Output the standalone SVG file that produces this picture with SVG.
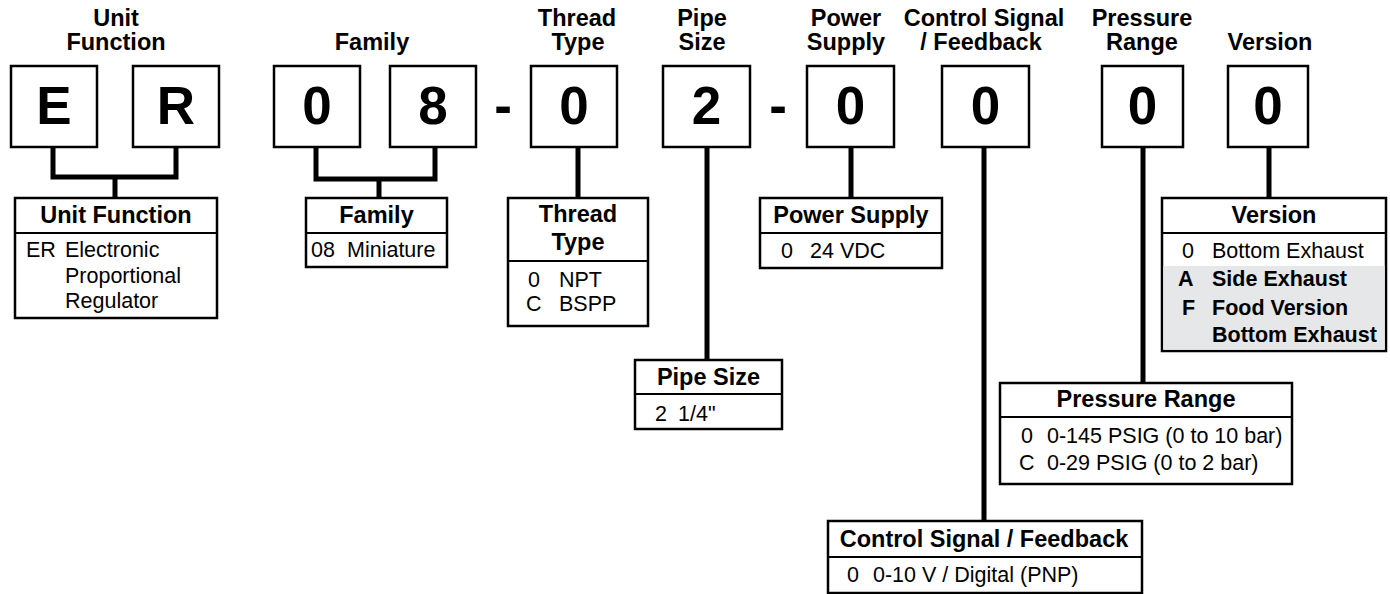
<svg xmlns="http://www.w3.org/2000/svg" width="1390" height="594" viewBox="0 0 1390 594">
<style>
text{font-family:"Liberation Sans",Arial,Helvetica,sans-serif;fill:#000}
.lbl{font-size:23.5px;font-weight:bold;text-anchor:middle}
.big{font-size:53px;font-weight:bold;text-anchor:middle}
.hd{font-size:23.5px;font-weight:bold;text-anchor:middle}
.bd{font-size:21.5px}
.b{font-weight:bold}
.box{fill:#fff;stroke:#000;stroke-width:2.5}
.div{stroke:#000;stroke-width:2.2}
.con{fill:none;stroke:#000;stroke-width:5;stroke-linejoin:miter}
</style>
<rect width="1390" height="594" fill="#fff"/>

<g id="top-labels">
<text class="lbl" x="116" y="26">Unit</text>
<text class="lbl" x="116" y="50">Function</text>
<text class="lbl" x="372" y="50">Family</text>
<text class="lbl" x="577" y="26">Thread</text>
<text class="lbl" x="578" y="50">Type</text>
<text class="lbl" x="702" y="26">Pipe</text>
<text class="lbl" x="702" y="50">Size</text>
<text class="lbl" x="846" y="26">Power</text>
<text class="lbl" x="846" y="50">Supply</text>
<text class="lbl" x="984" y="26">Control Signal</text>
<text class="lbl" x="981" y="50">/ Feedback</text>
<text class="lbl" x="1142" y="26">Pressure</text>
<text class="lbl" x="1142" y="50">Range</text>
<text class="lbl" x="1270" y="50">Version</text>
</g>

<g id="code-E"><rect class="box" x="11" y="66" width="86" height="81"/><text class="big" x="54" y="124">E</text></g>
<g id="code-R"><rect class="box" x="133" y="66" width="86" height="81"/><text class="big" x="176" y="124">R</text></g>
<g id="code-0a"><rect class="box" x="274" y="66" width="86" height="81"/><text class="big" x="317" y="124">0</text></g>
<g id="code-8"><rect class="box" x="390" y="66" width="86" height="81"/><text class="big" x="433" y="124">8</text></g>
<g id="dash-1"><text class="big" x="503" y="124">-</text></g>
<g id="code-thread"><rect class="box" x="531" y="66" width="86" height="81"/><text class="big" x="574" y="124">0</text></g>
<g id="code-pipe"><rect class="box" x="663" y="66" width="87" height="81"/><text class="big" x="706.5" y="124">2</text></g>
<g id="dash-2"><text class="big" x="778" y="124">-</text></g>
<g id="code-power"><rect class="box" x="807" y="66" width="87" height="81"/><text class="big" x="850.5" y="124">0</text></g>
<g id="code-control"><rect class="box" x="942" y="66" width="87" height="81"/><text class="big" x="985.5" y="124">0</text></g>
<g id="code-pressure"><rect class="box" x="1102" y="66" width="81" height="81"/><text class="big" x="1142.5" y="124">0</text></g>
<g id="code-version"><rect class="box" x="1228" y="66" width="80" height="81"/><text class="big" x="1268" y="124">0</text></g>

<g id="connectors">
<path class="con" d="M53,147 V177 H176 V147"/>
<path class="con" d="M115,177 V198"/>
<path class="con" d="M316,147 V179 H435 V147"/>
<path class="con" d="M379,179 V198"/>
<path class="con" d="M578,147 V198"/>
<path class="con" d="M707,147 V360"/>
<path class="con" d="M851,147 V198"/>
<path class="con" d="M984,147 V521"/>
<path class="con" d="M1143,147 V383"/>
<path class="con" d="M1269,147 V198"/>
</g>

<g id="unit-function">
<rect class="box" x="15" y="198" width="202" height="120"/>
<line class="div" x1="15" y1="233" x2="217" y2="233"/>
<text class="hd" x="116" y="223">Unit Function</text>
<text class="bd" x="26" y="257">ER</text>
<text class="bd" x="65" y="257">Electronic</text>
<text class="bd" x="65" y="283">Proportional</text>
<text class="bd" x="65" y="308">Regulator</text>
</g>

<g id="family">
<rect class="box" x="306" y="198" width="141" height="69"/>
<line class="div" x1="306" y1="233" x2="447" y2="233"/>
<text class="hd" x="376.5" y="223">Family</text>
<text class="bd" x="311" y="257">08</text>
<text class="bd" x="347" y="257">Miniature</text>
</g>

<g id="thread-type">
<rect class="box" x="508" y="198" width="140" height="128"/>
<line class="div" x1="508" y1="261" x2="648" y2="261"/>
<text class="hd" x="578" y="222">Thread</text>
<text class="hd" x="578" y="250">Type</text>
<text class="bd" x="528" y="287">0</text>
<text class="bd" x="559" y="287">NPT</text>
<text class="bd" x="526" y="311">C</text>
<text class="bd" x="559" y="311">BSPP</text>
</g>

<g id="power-supply">
<rect class="box" x="760" y="198" width="182" height="70"/>
<line class="div" x1="760" y1="233" x2="942" y2="233"/>
<text class="hd" x="851" y="223">Power Supply</text>
<text class="bd" x="781" y="258">0</text>
<text class="bd" x="810" y="258">24 VDC</text>
</g>

<g id="version">
<rect class="box" x="1162" y="198" width="224" height="153"/>
<rect x="1163.3" y="266" width="221.4" height="83.7" fill="#e6e7e8"/>
<line class="div" x1="1162" y1="233" x2="1386" y2="233"/>
<text class="hd" x="1274" y="223">Version</text>
<text class="bd" x="1182" y="258">0</text>
<text class="bd" x="1212" y="258">Bottom Exhaust</text>
<text class="bd b" x="1178" y="286">A</text>
<text class="bd b" x="1212" y="286">Side Exhaust</text>
<text class="bd b" x="1182" y="315">F</text>
<text class="bd b" x="1212" y="315">Food Version</text>
<text class="bd b" x="1212" y="342">Bottom Exhaust</text>
</g>

<g id="pipe-size">
<rect class="box" x="635" y="360" width="147" height="69"/>
<line class="div" x1="635" y1="394" x2="782" y2="394"/>
<text class="hd" x="708.5" y="385">Pipe Size</text>
<text class="bd" x="655" y="421">2</text>
<text class="bd" x="678" y="421">1/4"</text>
</g>

<g id="pressure-range">
<rect class="box" x="1000" y="383" width="292" height="101"/>
<line class="div" x1="1000" y1="417" x2="1292" y2="417"/>
<text class="hd" x="1146" y="407">Pressure Range</text>
<text class="bd" x="1021" y="443">0</text>
<text class="bd" x="1047" y="443">0-145 PSIG (0 to 10 bar)</text>
<text class="bd" x="1019" y="470">C</text>
<text class="bd" x="1047" y="470">0-29 PSIG (0 to 2 bar)</text>
</g>

<g id="control-signal">
<rect class="box" x="828" y="521" width="314" height="72"/>
<line class="div" x1="828" y1="557" x2="1142" y2="557"/>
<text class="hd" x="984" y="547">Control Signal / Feedback</text>
<text class="bd" x="847" y="582">0</text>
<text class="bd" x="873" y="582">0-10 V / Digital (PNP)</text>
</g>
</svg>
